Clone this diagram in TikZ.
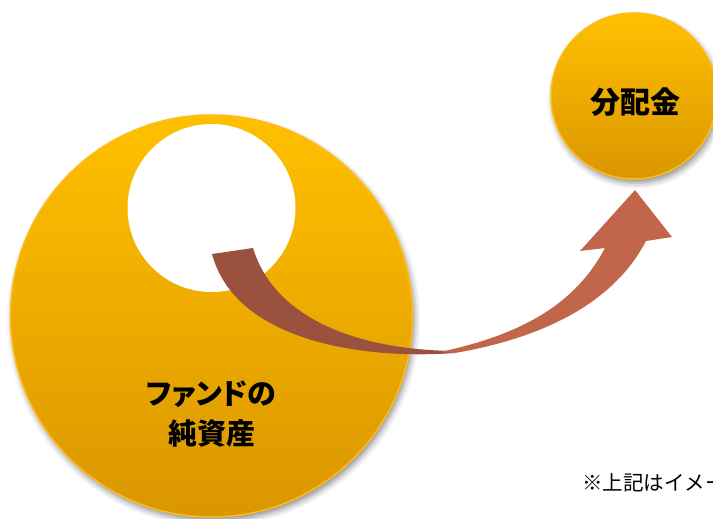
\documentclass[tikz,border=0pt]{standalone}
\usepackage{fontspec}
\newfontfamily\jp{Noto Sans CJK JP}
\usetikzlibrary{shadows.blur}
\definecolor{goldtop}{RGB}{255,192,0}
\definecolor{goldbot}{RGB}{218,150,0}
\definecolor{goldedge}{RGB}{255,188,20}
\definecolor{ribbondark}{RGB}{154,82,63}
\definecolor{ribbonlight}{RGB}{193,101,75}
\tikzset{
  goldball/.style={top color=goldtop, bottom color=goldbot, draw=goldedge, line width=1.5pt,
    blur shadow={shadow xshift=2pt, shadow yshift=-4pt, shadow blur radius=6pt, shadow opacity=45}},
  bigtext/.style={font=\jp\bfseries\fontsize{29}{40}\selectfont, align=center, inner sep=0pt},
  notetext/.style={font=\jp\fontsize{20.5}{26}\selectfont, inner sep=0pt, anchor=west}
}
\begin{document}
\begin{tikzpicture}[x=1pt,y=-1pt]
\useasboundingbox (0,0) rectangle (713,519);
\clip (0,0) rectangle (713,519);
% big circle
\path[goldball] (211.5,316) circle (201);
\node[bigtext] (fund) at (211.5,414) {{\addfontfeatures{RawFeature=+palt}ファンドの}\\純資産};
% hole
\fill[white] (211.5,208) circle (84);
% small circle
\path[goldball] (634,96) circle (83);
\node[bigtext, font=\jp\bfseries\fontsize{30}{40}\selectfont] (div) at (635,102) {分配金};
% ribbon arrow: back (dark) part
\fill[ribbondark] (212,254) -- (253,248)
  .. controls (275,320) and (360,350) .. (455,351)
  -- (455,353)
  .. controls (360,360) and (235,340) .. (212,254) -- cycle;
% front (light) part with head
\fill[ribbonlight] (440,352)
  .. controls (520,335) and (575,305) .. (605,248)
  -- (580,251) -- (635,190) -- (672,237) -- (646,241)
  .. controls (610,310) and (530,340) .. (455,353) -- cycle;
% note (cut off at the right edge, as in the reference)
\node[notetext] (note) at (582,483) {※上記はイメージです};
\end{tikzpicture}
\end{document}
